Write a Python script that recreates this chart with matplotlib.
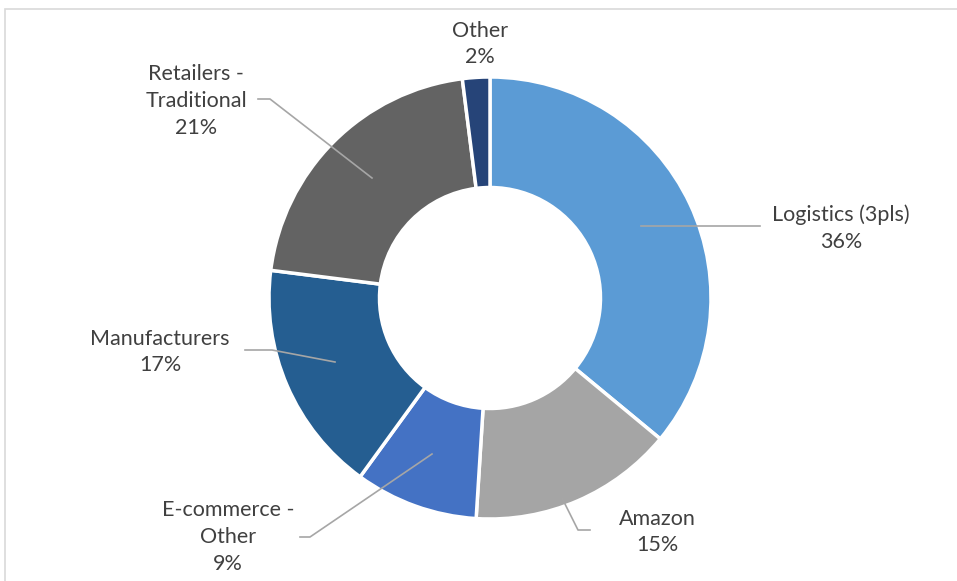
import matplotlib
matplotlib.use("Agg")
import matplotlib.pyplot as plt
from matplotlib.patches import Rectangle

categories = ["Logistics (3pls)", "Amazon", "E-commerce -\nOther", "Manufacturers",
              "Retailers -\nTraditional", "Other"]
values = [36, 15, 9, 17, 21, 2]
colors = ["#5B9BD5", "#A5A5A5", "#4472C4", "#255E91", "#636363", "#264478"]

W, H = 957, 581
fig = plt.figure(figsize=(W / 100, H / 100), dpi=100)
ax = fig.add_axes([0, 0, 1, 1])

def Y(py):
    return H - py

cx, cy, R = 490, 298, 221
ax.pie(values, colors=colors, startangle=90, counterclock=False,
       center=(cx, Y(cy)), radius=R, frame=True,
       wedgeprops=dict(width=R * 0.5, edgecolor="white", linewidth=2.5))
ax.set_xlim(0, W)
ax.set_ylim(0, H)
ax.set_aspect("equal")
ax.axis("off")

# frame
fig.patches.append(Rectangle((5 / W, -0.1), 1.2, (H - 9) / H + 0.1, transform=fig.transFigure,
                             fill=False, edgecolor="#D9D9D9", linewidth=1.2))

font = dict(family=["Lato", "DejaVu Sans"], fontsize=15.5, color="#404040")
lead = dict(color="#A6A6A6", linewidth=1.2)

# leader lines (pixel coordinates)
leaders = [
    [(641, 226), (760, 226)],
    [(562, 498), (578, 530), (590, 530)],
    [(432, 454), (310, 537), (300, 537)],
    [(335, 362), (272, 350), (245, 350)],
    [(372, 178), (270, 99), (258, 99)],
]
for pts in leaders:
    ax.plot([p[0] for p in pts], [Y(p[1]) for p in pts], **lead)

label_pos = [(841, 228), (657, 532), (228, 537), (160, 352), (196, 101), (480, 44)]
for cat, v, (x, y) in zip(categories, values, label_pos):
    txt = f"{cat}\n{v}%"
    ax.text(x, Y(y), txt, ha="center", va="center", linespacing=1.42, **font)

fig.savefig("out.png", dpi=100)
